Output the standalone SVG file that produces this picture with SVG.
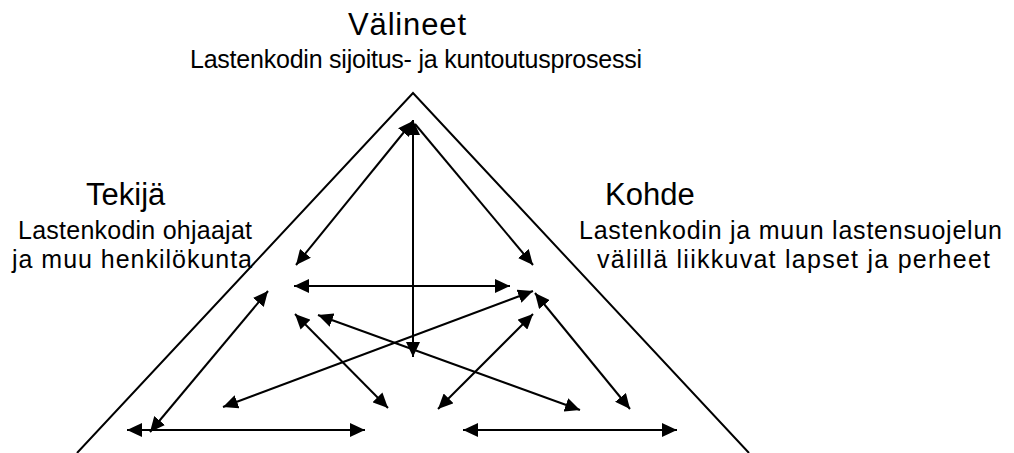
<svg xmlns="http://www.w3.org/2000/svg" width="1014" height="453" viewBox="0 0 1014 453">
<style>
.h{font-family:"Liberation Sans",Arial,sans-serif;font-size:31px;fill:#000}
.s{font-family:"Liberation Sans",Arial,sans-serif;font-size:25px;fill:#000}
.c line{stroke:#000;stroke-width:2;marker-end:url(#ah)}
.c line.d{marker-start:url(#ah)}
</style>
<defs>
<marker id="ah" markerUnits="userSpaceOnUse" markerWidth="16" markerHeight="14" refX="15" refY="7" orient="auto-start-reverse" viewBox="0 0 16 14">
<path d="M0,0 L15,7 L0,14 z" fill="#000"/>
</marker>
</defs>
<rect width="1014" height="453" fill="#fff"/>
<g id="triangle">
<polyline points="77,453 413,93 749,453" fill="none" stroke="#000" stroke-width="2"/>
</g>
<g id="node-valineet">
<text class="h" x="348" y="35" textLength="118" lengthAdjust="spacing">Välineet</text>
<text class="s" x="190" y="68" textLength="452" lengthAdjust="spacing">Lastenkodin sijoitus- ja kuntoutusprosessi</text>
</g>
<g id="node-tekija">
<text class="h" x="86" y="205">Tekijä</text>
<text class="s" x="18" y="239" textLength="234" lengthAdjust="spacing">Lastenkodin ohjaajat</text>
<text class="s" x="12" y="268" textLength="240" lengthAdjust="spacing">ja muu henkilökunta</text>
</g>
<g id="node-kohde">
<text class="h" x="605" y="205">Kohde</text>
<text class="s" x="579" y="239" textLength="423" lengthAdjust="spacing">Lastenkodin ja muun lastensuojelun</text>
<text class="s" x="597" y="268" textLength="393" lengthAdjust="spacing">välillä liikkuvat lapset ja perheet</text>
</g>
<g id="connectors" class="c">
<line class="d" x1="413" y1="357" x2="413" y2="120"/>
<line class="d" x1="296" y1="265" x2="413" y2="121"/>
<line x1="415" y1="124" x2="533" y2="265"/>
<line class="d" x1="294" y1="286" x2="510" y2="286"/>
<line class="d" x1="223" y1="407" x2="533" y2="291"/>
<line class="d" x1="295" y1="314" x2="388" y2="408"/>
<line class="d" x1="318" y1="315" x2="580" y2="410"/>
<line class="d" x1="268" y1="291" x2="150" y2="432"/>
<line class="d" x1="127" y1="430" x2="365" y2="430"/>
<line class="d" x1="463" y1="430" x2="677" y2="430"/>
<line class="d" x1="533" y1="314" x2="438" y2="409"/>
<line class="d" x1="535" y1="293" x2="630" y2="409"/>
</g>
</svg>
